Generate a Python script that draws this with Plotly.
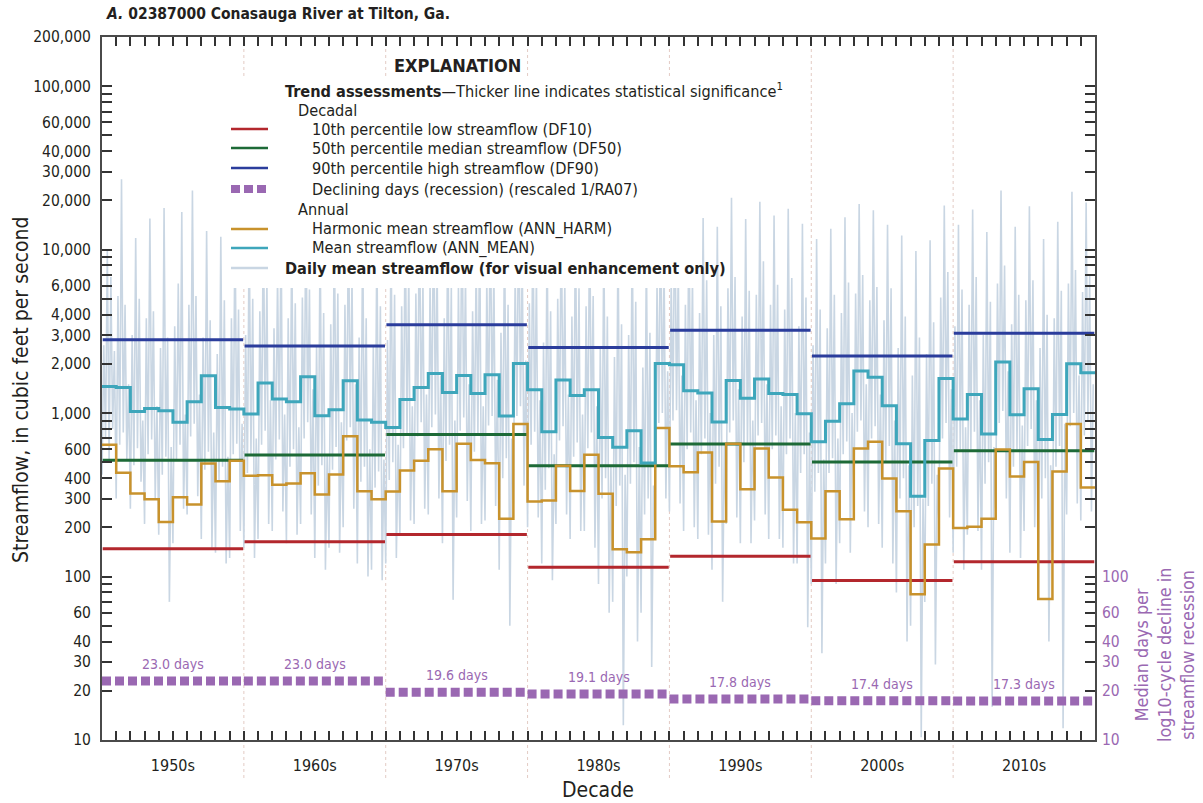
import numpy as np
import plotly.graph_objects as go

# ---------------------------------------------------------------- data
decade_labels = ["1950s", "1960s", "1970s", "1980s", "1990s", "2000s", "2010s"]
decade_starts = [1946, 1956, 1966, 1976, 1986, 1996, 2006]
years = list(range(1946, 2016))  # water years

# Decadal trend statistics, cubic feet per second
df10 = [148, 163, 181, 114, 133, 94.5, 123]
df50 = [514, 555, 741, 477, 647, 502, 589]
df90 = [2807, 2577, 3467, 2518, 3214, 2234, 3083]
# Median days per log10-cycle decline in streamflow recession
recession_days = [23.0, 23.0, 19.6, 19.1, 17.8, 17.4, 17.3]

# Annual mean streamflow (ANN_MEAN)
ann_mean = [
    1456, 1436, 1024, 1068, 1035, 878, 1175, 1691, 1084, 1059,
    988, 1527, 1220, 1175, 1667, 964, 1050, 1578, 908, 878,
    815, 1213, 1436, 1749, 1337, 1698, 1318, 1714, 960, 2014,
    1390, 769, 1592, 1282, 1390, 708, 618, 781, 495, 2014,
    1976, 1371, 1327, 883, 1585, 1231, 1615, 1318, 1300, 991,
    667, 891, 1141, 1807, 1660, 1109, 650, 310, 679, 1627,
    920, 1300, 745, 2051, 977, 1409, 689, 982, 2004, 1766,
]
# Annual harmonic mean streamflow (ANN_HARM)
ann_harm = [
    641, 431, 322, 297, 216, 306, 276, 491, 383, 511,
    413, 417, 365, 371, 429, 318, 421, 721, 332, 297,
    331, 445, 511, 601, 332, 650, 517, 493, 226, 857,
    288, 292, 477, 334, 557, 321, 147, 141, 169, 811,
    473, 434, 575, 217, 650, 342, 607, 404, 256, 215,
    171, 332, 224, 607, 669, 398, 251, 77.8, 157, 458,
    198, 202, 226, 598, 409, 502, 72.9, 440, 857, 351,
]

# Daily mean streamflow, thinned to eight readings per water year
daily_flow = [
    420, 2600, 700, 9800, 520, 6800, 800, 2400,
    300, 5200, 640, 27000, 760, 4600, 520, 1500,
    260, 3000, 480, 11800, 610, 5000, 380, 900,
    210, 3800, 560, 15500, 690, 4200, 300, 1100,
    180, 2500, 420, 18000, 540, 2900, 70, 620,
    160, 3400, 510, 6200, 640, 17000, 260, 980,
    240, 4600, 720, 23000, 860, 5200, 310, 1300,
    170, 2900, 450, 13000, 580, 3700, 150, 760,
    140, 2300, 390, 12000, 470, 4900, 120, 540,
    130, 3800, 560, 14500, 650, 4300, 190, 860,
    150, 3000, 430, 13800, 560, 5000, 130, 700,
    170, 4200, 640, 16800, 780, 6500, 210, 1200,
    190, 3300, 520, 6900, 690, 14200, 250, 980,
    160, 3800, 470, 11200, 600, 4700, 180, 820,
    210, 5100, 700, 18000, 880, 5700, 240, 1400,
    130, 2600, 360, 12000, 480, 4100, 110, 560,
    150, 3500, 450, 14600, 620, 5400, 140, 880,
    200, 4600, 680, 17400, 820, 6700, 260, 1500,
    120, 2900, 380, 13200, 470, 3800, 100, 600,
    110, 2600, 350, 11400, 440, 4500, 95, 520,
    120, 2800, 390, 12800, 500, 5300, 130, 640,
    180, 4500, 610, 16400, 740, 7400, 220, 1100,
    210, 5400, 720, 19800, 880, 6400, 260, 1300,
    240, 6300, 820, 22000, 980, 7800, 300, 1700,
    160, 3800, 510, 15600, 640, 5900, 72, 900,
    230, 5900, 780, 21400, 940, 6900, 290, 1500,
    190, 4200, 580, 8400, 730, 15200, 210, 1100,
    220, 6600, 840, 20600, 960, 7600, 270, 1600,
    110, 3100, 400, 13200, 530, 4600, 50, 700,
    280, 7100, 960, 22400, 1100, 8900, 360, 2100,
    200, 4700, 640, 16600, 770, 7000, 230, 1200,
    120, 2700, 340, 12400, 460, 4200, 95, 560,
    210, 5000, 680, 17200, 830, 6200, 240, 1300,
    170, 3900, 540, 14800, 660, 5800, 190, 980,
    190, 4500, 610, 16200, 760, 5200, 150, 1100,
    90, 2500, 300, 11800, 400, 3900, 60, 480,
    70, 2200, 270, 12600, 360, 3500, 12.3, 420,
    100, 3000, 370, 13800, 500, 4800, 40, 620,
    60, 1900, 240, 10200, 300, 3100, 28, 360,
    260, 6200, 870, 21000, 1000, 7600, 300, 1800,
    250, 6700, 900, 24800, 1040, 7800, 280, 1700,
    190, 4600, 600, 17600, 760, 6900, 200, 1200,
    170, 4100, 560, 15600, 700, 6500, 180, 1000,
    110, 3000, 370, 13800, 470, 4500, 70, 640,
    210, 5800, 760, 20800, 900, 6800, 230, 1400,
    160, 3900, 500, 15400, 640, 5600, 160, 900,
    220, 5300, 730, 19600, 870, 8500, 240, 1500,
    170, 4600, 600, 16200, 730, 6100, 170, 1100,
    150, 4300, 560, 17800, 700, 6700, 120, 1000,
    120, 3400, 430, 14400, 560, 5100, 49, 760,
    90, 2600, 330, 11600, 430, 4300, 34, 520,
    120, 3300, 430, 13400, 530, 5300, 90, 700,
    160, 4100, 560, 15800, 670, 6300, 140, 1000,
    230, 5400, 770, 19000, 900, 7000, 250, 1500,
    200, 4900, 700, 17400, 830, 5900, 210, 1300,
    150, 3700, 500, 14200, 630, 5800, 120, 900,
    80, 2500, 300, 12200, 400, 3900, 40, 480,
    50, 1700, 200, 9800, 270, 2900, 10.4, 300,
    70, 2300, 270, 11400, 370, 3600, 29, 420,
    210, 5100, 700, 18600, 870, 7300, 230, 1400,
    140, 3400, 470, 14200, 600, 5700, 110, 820,
    180, 4600, 600, 17600, 770, 6800, 190, 1200,
    110, 3000, 370, 12800, 500, 4800, 16, 620,
    260, 6200, 870, 23000, 1030, 8000, 300, 1800,
    140, 3500, 470, 13800, 600, 5300, 130, 840,
    190, 4900, 630, 18400, 800, 6500, 200, 1200,
    90, 2500, 300, 11600, 400, 4000, 40, 480,
    140, 3800, 470, 14800, 630, 5600, 11.8, 860,
    240, 6200, 830, 22600, 1000, 7500, 280, 1700,
    220, 5500, 730, 19400, 900, 6900, 250, 1500,
]
readings_per_year = 8

# Axis tick labels
y_label_vals = [10, 20, 30, 40, 60, 100, 200, 300, 400, 600, 1000, 2000, 3000,
                4000, 6000, 10000, 20000, 30000, 40000, 60000, 100000, 200000]
y_minor_vals = [50, 70, 80, 90, 500, 700, 800, 900, 5000, 7000, 8000, 9000,
                50000, 70000, 80000, 90000]
y_decade_vals = [100, 1000, 10000, 100000]
right_label_vals = [10, 20, 30, 40, 60, 100]

# ---------------------------------------------------------------- styling
FONT = "DejaVu Sans Condensed, Roboto, sans-serif"
INK = "#231f20"
AXIS = "#4a4a4a"
C_DAILY = "#c9d6e3"
C_MEAN = "#3ea6bb"
C_HARM = "#c8922c"
C_DF10 = "#b3272d"
C_DF50 = "#1d6a37"
C_DF90 = "#2b3d9c"
C_REC = "#9a68b2"
C_SEP = "#e3cbc4"

W, H = 1203, 803
L, R, T, B = 102, 1095, 37, 740


def px(xp):
    return (xp - L) / (R - L)


def py(yp):
    return (B - yp) / (B - T)


def note(xp, yp, text, size, color=INK, xanchor="center", **kw):
    return dict(x=px(xp), y=py(yp), xref="paper", yref="paper", text=text,
                showarrow=False, xanchor=xanchor, yanchor="middle",
                font=dict(family=FONT, size=size, color=color), **kw)


x0, x1 = years[0], years[-1] + 1
y_range = [1, np.log10(200000)]

fig = go.Figure()

# daily streamflow backdrop
daily_x = [yr + k / readings_per_year for yr in years for k in range(readings_per_year)]
fig.add_trace(go.Scatter(x=daily_x, y=daily_flow, mode="lines",
                         line=dict(color=C_DAILY, width=1.6), hoverinfo="skip"))

# decadal percentile lines (one flat segment per decade)
def decade_segments(values):
    xs, ys = [], []
    for start, v in zip(decade_starts, values):
        xs += [start + 0.05, start + 9.95, None]
        ys += [v, v, None]
    return xs, ys

for vals, col in [(df10, C_DF10), (df50, C_DF50), (df90, C_DF90)]:
    sx, sy = decade_segments(vals)
    fig.add_trace(go.Scatter(x=sx, y=sy, mode="lines",
                             line=dict(color=col, width=3)))

# annual step lines
step_x = years + [years[-1] + 1]
fig.add_trace(go.Scatter(x=step_x, y=ann_harm + [ann_harm[-1]], mode="lines",
                         line=dict(color=C_HARM, width=2.5, shape="hv")))
fig.add_trace(go.Scatter(x=step_x, y=ann_mean + [ann_mean[-1]], mode="lines",
                         line=dict(color=C_MEAN, width=3, shape="hv")))

# recession days on the right-hand axis
rx, ry = [], []
for start, v in zip(decade_starts, recession_days):
    rx += [start, start + 10, None]
    ry += [v, v, None]
fig.add_trace(go.Scatter(x=rx, y=ry, mode="lines", yaxis="y2",
                         line=dict(color=C_REC, width=9, dash="9px,4px")))

annotations = []
for start, v in zip(decade_starts, recession_days):
    annotations.append(dict(x=start + 5, y=np.log10(v), xref="x", yref="y2",
                            text=f"{v:.1f} days", showarrow=False, yshift=17,
                            xanchor="center", yanchor="middle",
                            font=dict(family=FONT, size=14, color=C_REC)))

# decade separators
shapes = []
for b in decade_starts[1:]:
    shapes.append(dict(type="line", xref="x", yref="paper", x0=b, x1=b,
                       y0=py(778), y1=1, layer="below",
                       line=dict(color=C_SEP, width=1, dash="3px,3px")))

# explanation block
shapes.append(dict(type="rect", xref="paper", yref="paper", x0=px(225), x1=px(697),
                   y0=py(288), y1=py(78), fillcolor="white", line=dict(width=0),
                   layer="above"))

annotations.append(note(457, 65, "<b>EXPLANATION</b>", 18))

legend_rows = [
    (90, 283, "<b>Trend assessments</b>—Thicker line indicates statistical significance<sup>1</sup>", None),
    (110, 296, "Decadal", None),
    (129, 310, "10th percentile low streamflow (DF10)", ("solid", C_DF10, 2.5)),
    (148, 310, "50th percentile median streamflow (DF50)", ("solid", C_DF50, 2.5)),
    (168, 310, "90th percentile high streamflow (DF90)", ("solid", C_DF90, 2.5)),
    (189, 310, "Declining days (recession) (rescaled 1/RA07)", ("dash", C_REC, 8)),
    (209, 296, "Annual", None),
    (229, 310, "Harmonic mean streamflow (ANN_HARM)", ("solid", C_HARM, 2.5)),
    (248, 310, "Mean streamflow (ANN_MEAN)", ("solid", C_MEAN, 2.5)),
    (268, 283, "<b>Daily mean streamflow (for visual enhancement only)</b>", ("solid", C_DAILY, 2.5)),
]
for yrow, xtext, text, sample in legend_rows:
    annotations.append(note(xtext, yrow, text, 16.2, xanchor="left"))
    if sample:
        style, col, w = sample
        shapes.append(dict(type="line", xref="paper", yref="paper",
                           x0=px(231), x1=px(268), y0=py(yrow), y1=py(yrow),
                           layer="above",
                           line=dict(color=col, width=w,
                                     dash="9px,4px" if style == "dash" else "solid")))

# titles
annotations.append(note(104, 14, "<b><i>A.</i> 02387000 Conasauga River at Tilton, Ga.</b>",
                        15.5, xanchor="left"))
annotations.append(note(21, 390, "Streamflow, in cubic feet per second", 21, textangle=-90))
annotations.append(note(598, 790, "Decade", 21))
annotations.append(note(1164, 655, "Median days per<br>log10-cycle decline in<br>streamflow recession",
                        17.8, color=C_REC, textangle=-90, align="center"))

tick_font = dict(family=FONT, size=15.5, color=INK)

fig.update_layout(
    width=W, height=H,
    margin=dict(l=L, r=W - R, t=T, b=H - B),
    paper_bgcolor="white", plot_bgcolor="white",
    showlegend=False,
    xaxis=dict(range=[x0, x1], tickmode="array",
               tickvals=[s + 5 for s in decade_starts], ticktext=decade_labels,
               ticks="inside", ticklen=9, tickwidth=1.5, tickcolor="#333",
               minor=dict(ticks="inside", ticklen=9, tickwidth=1.5, tickcolor="#333",
                          dtick=1, tick0=x0, showgrid=False),
               showline=True, linecolor=AXIS, linewidth=2, mirror="ticks",
               showgrid=False, zeroline=False,
               tickfont=dict(family=FONT, size=16, color=INK), ticklabelstandoff=10),
    xaxis2=dict(range=[x0, x1], overlaying="x", anchor="y", side="bottom",
                tickmode="array", tickvals=decade_starts[1:],
                ticks="inside", ticklen=19, tickwidth=1.5, tickcolor="#333",
                showticklabels=False, mirror="ticks", showline=False,
                showgrid=False, zeroline=False),
    yaxis=dict(type="log", range=y_range, tickmode="array",
               tickvals=y_label_vals, ticktext=[f"{v:,}" for v in y_label_vals],
               ticks="inside", ticklen=10, tickwidth=1.5, tickcolor="#333",
               minor=dict(tickvals=y_minor_vals, ticks="inside", ticklen=10,
                          tickwidth=1.5, tickcolor="#333", showgrid=False),
               showline=True, linecolor=AXIS, linewidth=2, mirror="ticks",
               showgrid=False, zeroline=False, tickfont=tick_font,
               ticklabelstandoff=6),
    yaxis2=dict(type="log", range=y_range, overlaying="y", side="right", anchor="x",
                tickmode="array", tickvals=right_label_vals,
                ticktext=[str(v) for v in right_label_vals], ticks="",
                showline=False, showgrid=False, zeroline=False,
                tickfont=dict(family=FONT, size=15.5, color=C_REC),
                ticklabelstandoff=6),
    yaxis3=dict(type="log", range=y_range, overlaying="y", side="left", anchor="x",
                tickmode="array", tickvals=y_decade_vals, ticks="inside", ticklen=21,
                tickwidth=1.5, tickcolor="#333", showticklabels=False,
                mirror="ticks", showline=False, showgrid=False, zeroline=False),
    shapes=shapes,
    annotations=annotations,
)

fig.write_html("out.html")
